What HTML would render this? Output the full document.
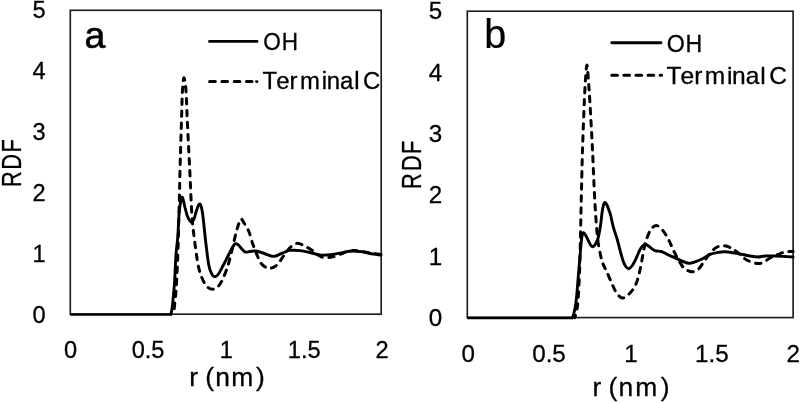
<!DOCTYPE html>
<html><head><meta charset="utf-8"><title>RDF</title>
<style>
html,body{margin:0;padding:0;background:#fff;}
svg{display:block;filter:blur(0.45px);}
text{font-family:"Liberation Sans",sans-serif;fill:#000;stroke:#000;stroke-width:0.3px;stroke-linejoin:round;}
.fr{fill:none;stroke:#1c1c1c;stroke-width:1.65;}
.s{fill:none;stroke:#000;stroke-width:2.9;stroke-linejoin:round;stroke-linecap:round;}
.d{fill:none;stroke:#000;stroke-width:3.0;stroke-linejoin:round;stroke-linecap:round;stroke-dasharray:5.5 6.5;}
</style></head><body>
<svg width="800" height="403" viewBox="0 0 800 403">
<rect x="0" y="0" width="800" height="403" fill="#fff"/>

<rect class="fr" x="70.3" y="10.3" width="310.9" height="303.9"/>
<rect class="fr" x="467.3" y="11.2" width="325.8" height="306.4"/>
<path d="M70.3,314.45H171" fill="none" stroke="#000" stroke-width="2.5"/><path d="M467.3,317.9H573" fill="none" stroke="#000" stroke-width="2.9"/>
<path class="d" stroke-dashoffset="6" d="M173.20,314.30C173.35,313.58 173.79,312.38 174.10,310.00C174.41,307.62 174.72,303.33 175.05,300.00C175.38,296.67 175.79,294.17 176.10,290.00C176.41,285.83 176.65,280.00 176.90,275.00C177.15,270.00 177.40,264.83 177.60,260.00C177.80,255.17 177.95,250.67 178.10,246.00C178.25,241.33 178.37,237.17 178.50,232.00C178.63,226.83 178.73,221.17 178.90,215.00C179.07,208.83 179.32,202.50 179.50,195.00C179.68,187.50 179.67,182.50 180.00,170.00C180.33,157.50 181.12,132.50 181.50,120.00C181.88,107.50 182.00,101.00 182.25,95.00C182.50,89.00 182.75,86.87 183.00,84.00C183.25,81.13 183.38,77.97 183.75,77.80C184.12,77.63 184.78,80.13 185.20,83.00C185.62,85.87 185.91,88.83 186.25,95.00C186.59,101.17 186.67,107.50 187.25,120.00C187.83,132.50 188.97,154.17 189.75,170.00C190.53,185.83 191.11,203.33 191.90,215.00C192.69,226.67 193.47,231.67 194.50,240.00C195.53,248.33 196.85,258.67 198.10,265.00C199.35,271.33 200.52,274.40 202.00,278.00C203.48,281.60 205.25,284.73 207.00,286.60C208.75,288.47 210.67,289.20 212.50,289.20C214.33,289.20 216.25,288.38 218.00,286.60C219.75,284.82 221.32,282.10 223.00,278.50C224.68,274.90 226.60,269.75 228.10,265.00C229.60,260.25 230.68,255.33 232.00,250.00C233.32,244.67 234.83,237.50 236.00,233.00C237.17,228.50 238.12,225.33 239.00,223.00C239.88,220.67 240.42,219.00 241.25,219.00C242.08,219.00 242.75,220.96 244.00,223.00C245.25,225.04 247.23,227.58 248.75,231.25C250.27,234.92 251.54,240.62 253.10,245.00C254.66,249.38 256.74,254.42 258.10,257.50C259.46,260.58 259.93,261.83 261.25,263.50C262.57,265.17 264.54,266.70 266.00,267.50C267.46,268.30 268.50,268.47 270.00,268.30C271.50,268.13 273.33,267.68 275.00,266.50C276.67,265.32 278.33,263.38 280.00,261.25C281.67,259.12 283.12,256.21 285.00,253.75C286.88,251.29 289.17,248.24 291.25,246.50C293.33,244.76 295.21,243.34 297.50,243.30C299.79,243.26 302.50,245.03 305.00,246.25C307.50,247.47 310.33,249.14 312.50,250.60C314.67,252.06 316.33,253.88 318.00,255.00C319.67,256.12 320.83,256.88 322.50,257.30C324.17,257.72 326.33,257.57 328.00,257.50C329.67,257.43 330.50,257.42 332.50,256.90C334.50,256.38 337.75,255.22 340.00,254.40C342.25,253.58 343.92,252.63 346.00,252.00C348.08,251.37 350.17,250.77 352.50,250.60C354.83,250.43 357.08,250.60 360.00,251.00C362.92,251.40 366.52,252.42 370.00,253.00C373.48,253.58 379.08,254.25 380.90,254.50"/>
<path class="s" d="M170.90,314.30C171.05,313.58 171.53,311.55 171.80,310.00C172.07,308.45 172.30,306.67 172.50,305.00C172.70,303.33 172.77,302.50 173.00,300.00C173.23,297.50 173.62,293.33 173.90,290.00C174.18,286.67 174.41,285.00 174.70,280.00C174.99,275.00 175.37,265.00 175.65,260.00C175.93,255.00 176.09,253.33 176.40,250.00C176.71,246.67 177.18,243.67 177.50,240.00C177.82,236.33 178.05,232.17 178.30,228.00C178.55,223.83 178.65,219.17 179.00,215.00C179.35,210.83 179.90,205.97 180.40,203.00C180.90,200.03 181.50,197.62 182.00,197.20C182.50,196.78 182.98,199.12 183.40,200.50C183.82,201.88 184.10,203.83 184.50,205.50C184.90,207.17 185.38,208.92 185.80,210.50C186.22,212.08 186.38,213.37 187.00,215.00C187.62,216.63 188.72,219.05 189.50,220.30C190.28,221.55 190.95,222.72 191.70,222.50C192.45,222.28 193.12,221.25 194.00,219.00C194.88,216.75 196.00,211.50 197.00,209.00C198.00,206.50 199.08,203.33 200.00,204.00C200.92,204.67 201.58,207.00 202.50,213.00C203.42,219.00 204.46,231.33 205.50,240.00C206.54,248.67 207.67,259.25 208.75,265.00C209.83,270.75 210.96,272.55 212.00,274.50C213.04,276.45 213.92,276.78 215.00,276.70C216.08,276.62 217.10,275.95 218.50,274.00C219.90,272.05 221.65,268.33 223.40,265.00C225.15,261.67 227.40,257.08 229.00,254.00C230.60,250.92 231.92,248.22 233.00,246.50C234.08,244.78 234.67,244.00 235.50,243.70C236.33,243.40 237.08,243.98 238.00,244.70C238.92,245.42 239.83,246.80 241.00,248.00C242.17,249.20 243.50,251.32 245.00,251.90C246.50,252.48 248.17,251.65 250.00,251.50C251.83,251.35 253.50,250.62 256.00,251.00C258.50,251.38 262.04,252.85 265.00,253.75C267.96,254.65 270.62,256.61 273.75,256.40C276.88,256.19 281.04,253.50 283.75,252.50C286.46,251.50 287.29,250.72 290.00,250.40C292.71,250.08 296.67,250.25 300.00,250.60C303.33,250.95 306.67,251.78 310.00,252.50C313.33,253.22 316.67,254.53 320.00,254.90C323.33,255.28 326.67,255.05 330.00,254.75C333.33,254.45 336.67,253.68 340.00,253.10C343.33,252.52 346.67,251.52 350.00,251.25C353.33,250.98 356.67,251.12 360.00,251.50C363.33,251.88 366.52,252.92 370.00,253.50C373.48,254.08 379.08,254.75 380.90,255.00"/>
<path class="d" stroke-dashoffset="3" d="M574.80,317.70C574.93,317.25 575.30,316.12 575.60,315.00C575.90,313.88 576.27,312.67 576.60,311.00C576.93,309.33 577.25,308.50 577.60,305.00C577.95,301.50 578.37,295.83 578.70,290.00C579.03,284.17 579.35,276.67 579.60,270.00C579.85,263.33 580.03,256.67 580.20,250.00C580.37,243.33 580.43,238.33 580.60,230.00C580.77,221.67 580.93,213.33 581.25,200.00C581.57,186.67 581.98,166.67 582.50,150.00C583.02,133.33 583.85,112.50 584.40,100.00C584.95,87.50 585.38,80.83 585.80,75.00C586.22,69.17 586.53,65.00 586.90,65.00C587.27,65.00 587.52,69.17 588.00,75.00C588.48,80.83 589.00,87.50 589.75,100.00C590.50,112.50 591.67,133.33 592.50,150.00C593.33,166.67 593.96,185.83 594.75,200.00C595.54,214.17 596.46,226.67 597.25,235.00C598.04,243.33 598.62,245.42 599.50,250.00C600.38,254.58 601.27,258.83 602.50,262.50C603.73,266.17 605.23,268.25 606.90,272.00C608.57,275.75 610.82,281.42 612.50,285.00C614.18,288.58 615.33,291.33 617.00,293.50C618.67,295.67 620.50,297.92 622.50,298.00C624.50,298.08 626.82,296.17 629.00,294.00C631.18,291.83 633.77,289.00 635.60,285.00C637.43,281.00 638.64,275.83 640.00,270.00C641.36,264.17 642.71,255.00 643.75,250.00C644.79,245.00 645.11,243.33 646.25,240.00C647.39,236.67 648.93,232.40 650.60,230.00C652.27,227.60 654.27,225.60 656.25,225.60C658.23,225.60 660.42,227.60 662.50,230.00C664.58,232.40 666.88,236.50 668.75,240.00C670.62,243.50 671.88,247.25 673.75,251.00C675.62,254.75 678.12,259.50 680.00,262.50C681.88,265.50 682.92,267.47 685.00,269.00C687.08,270.53 690.21,271.74 692.50,271.70C694.79,271.66 696.88,270.38 698.75,268.75C700.62,267.12 701.88,264.44 703.75,261.90C705.62,259.36 707.92,255.90 710.00,253.50C712.08,251.10 713.96,248.78 716.25,247.50C718.54,246.22 721.25,245.70 723.75,245.80C726.25,245.90 728.96,246.98 731.25,248.10C733.54,249.22 735.21,250.70 737.50,252.50C739.79,254.30 742.92,257.40 745.00,258.90C747.08,260.40 748.00,260.73 750.00,261.50C752.00,262.27 754.83,263.33 757.00,263.50C759.17,263.67 760.83,263.42 763.00,262.50C765.17,261.58 767.50,259.33 770.00,258.00C772.50,256.67 775.50,255.50 778.00,254.50C780.50,253.50 782.48,252.50 785.00,252.00C787.52,251.50 791.75,251.58 793.10,251.50"/>
<path class="s" d="M572.20,317.70C572.33,317.45 572.68,317.07 573.00,316.20C573.32,315.33 573.67,314.37 574.10,312.50C574.53,310.63 575.19,307.50 575.60,305.00C576.01,302.50 576.28,300.00 576.55,297.50C576.82,295.00 576.89,293.75 577.20,290.00C577.51,286.25 577.98,280.00 578.40,275.00C578.82,270.00 579.32,264.50 579.70,260.00C580.08,255.50 580.37,251.67 580.70,248.00C581.03,244.33 581.40,240.33 581.70,238.00C582.00,235.67 582.20,234.88 582.50,234.00C582.80,233.12 583.00,232.53 583.50,232.70C584.00,232.87 584.67,233.62 585.50,235.00C586.33,236.38 587.58,239.25 588.50,241.00C589.42,242.75 590.23,244.55 591.00,245.50C591.77,246.45 592.35,246.95 593.10,246.70C593.85,246.45 594.67,245.45 595.50,244.00C596.33,242.55 597.25,241.17 598.10,238.00C598.95,234.83 599.95,229.17 600.60,225.00C601.25,220.83 601.52,216.33 602.00,213.00C602.48,209.67 603.00,206.75 603.50,205.00C604.00,203.25 604.42,202.50 605.00,202.50C605.58,202.50 606.42,203.92 607.00,205.00C607.58,206.08 607.90,207.33 608.50,209.00C609.10,210.67 609.80,212.00 610.60,215.00C611.40,218.00 612.17,222.83 613.30,227.00C614.43,231.17 616.25,236.00 617.40,240.00C618.55,244.00 619.25,247.50 620.20,251.00C621.15,254.50 622.17,258.42 623.10,261.00C624.03,263.58 624.86,265.22 625.80,266.50C626.74,267.78 627.67,268.87 628.75,268.70C629.83,268.53 631.04,267.28 632.30,265.50C633.56,263.72 635.05,260.58 636.30,258.00C637.55,255.42 638.72,252.03 639.80,250.00C640.88,247.97 641.83,246.73 642.80,245.80C643.77,244.87 644.65,244.37 645.60,244.40C646.55,244.43 646.93,244.97 648.50,246.00C650.07,247.03 652.88,249.68 655.00,250.60C657.12,251.52 658.75,250.67 661.25,251.50C663.75,252.33 666.88,254.17 670.00,255.60C673.12,257.03 676.88,258.82 680.00,260.10C683.12,261.38 686.25,263.00 688.75,263.30C691.25,263.60 692.71,262.66 695.00,261.90C697.29,261.14 700.00,260.00 702.50,258.75C705.00,257.50 707.50,255.44 710.00,254.40C712.50,253.36 715.00,252.95 717.50,252.50C720.00,252.05 722.08,251.60 725.00,251.70C727.92,251.80 731.67,252.55 735.00,253.10C738.33,253.65 742.50,254.52 745.00,255.00C747.50,255.48 747.83,255.67 750.00,256.00C752.17,256.33 755.50,257.00 758.00,257.00C760.50,257.00 762.17,256.17 765.00,256.00C767.83,255.83 771.67,255.92 775.00,256.00C778.33,256.08 781.98,256.33 785.00,256.50C788.02,256.67 791.75,256.92 793.10,257.00"/>
<text x="39" y="323.25" font-size="23.6" text-anchor="middle">0</text>
<text x="39" y="262.22" font-size="23.6" text-anchor="middle">1</text>
<text x="39" y="201.19" font-size="23.6" text-anchor="middle">2</text>
<text x="39" y="140.16" font-size="23.6" text-anchor="middle">3</text>
<text x="39" y="79.13" font-size="23.6" text-anchor="middle">4</text>
<text x="39" y="18.10" font-size="23.6" text-anchor="middle">5</text>
<text x="435.6" y="326.15" font-size="24.2" text-anchor="middle">0</text>
<text x="435.6" y="264.76" font-size="24.2" text-anchor="middle">1</text>
<text x="435.6" y="203.37" font-size="24.2" text-anchor="middle">2</text>
<text x="435.6" y="141.98" font-size="24.2" text-anchor="middle">3</text>
<text x="435.6" y="80.59" font-size="24.2" text-anchor="middle">4</text>
<text x="435.6" y="19.20" font-size="24.2" text-anchor="middle">5</text>
<text x="70.6" y="358.3" font-size="23.6" text-anchor="middle">0</text>
<text x="148.1" y="358.3" font-size="23.6" text-anchor="middle">0.5</text>
<text x="226.2" y="358.3" font-size="23.6" text-anchor="middle">1</text>
<text x="304.2" y="358.3" font-size="23.6" text-anchor="middle">1.5</text>
<text x="382.0" y="358.3" font-size="23.6" text-anchor="middle">2</text>
<text x="468.3" y="362.1" font-size="24.2" text-anchor="middle">0</text>
<text x="549.0" y="362.1" font-size="24.2" text-anchor="middle">0.5</text>
<text x="630.9" y="362.1" font-size="24.2" text-anchor="middle">1</text>
<text x="711.9" y="362.1" font-size="24.2" text-anchor="middle">1.5</text>
<text x="793.2" y="362.1" font-size="24.2" text-anchor="middle">2</text>
<text transform="translate(0.00,386.20) scale(1.0000,1)" x="189.30 198.09 205.16 215.14 231.20 256.05" y="0" font-size="26.40">r (nm)</text>
<text transform="translate(0.00,396.20) scale(1.0000,1)" x="592.45 601.24 608.61 618.51 635.25 660.72" y="0" font-size="26.40">r (nm)</text>
<text transform="translate(20.50,184.75) rotate(-90) scale(0.7954,1)" x="-2.74 18.99 40.50" y="0" font-size="27.40">RDF</text>
<text transform="translate(420.90,186.75) rotate(-90) scale(0.7794,1)" x="-2.82 20.20 42.12" y="0" font-size="28.00">RDF</text>
<text transform="translate(0.00,48.30) scale(1.0000,1)" x="84.61" y="0" font-size="37.40" style="stroke-width:0.6px">a</text>
<text transform="translate(0.00,48.30) scale(0.9700,1)" x="499.28" y="0" font-size="40.80" style="stroke-width:0.25px">b</text>
<path class="s" d="M209.6,41.4H257"/>
<path class="d" style="stroke-dasharray:5.7 6.6" d="M209.6,81.6H252"/><path class="s" d="M256.5,81.6H257"/>
<text transform="translate(0.00,50.00) scale(0.9559,1)" x="275.38 294.86" y="0" font-size="23.60">OH</text>
<text transform="translate(0.00,88.70) scale(1.0400,1)" x="252.48 265.55 278.48 288.49 309.33 314.19 326.96 340.56 345.67 349.10" y="0" font-size="23.00">Terminal C</text>
<path class="s" d="M611.8,42.8H661"/>
<path class="d" style="stroke-dasharray:5.7 6.4" d="M611.75,75.3H661.6"/>
<text transform="translate(0.00,51.80) scale(0.9588,1)" x="695.53 714.97" y="0" font-size="24.20">OH</text>
<text transform="translate(0.00,84.30) scale(1.0400,1)" x="640.89 654.25 667.48 677.69 699.01 703.96 717.01 730.93 736.18 739.63" y="0" font-size="23.60">Terminal C</text>
</svg></body></html>
